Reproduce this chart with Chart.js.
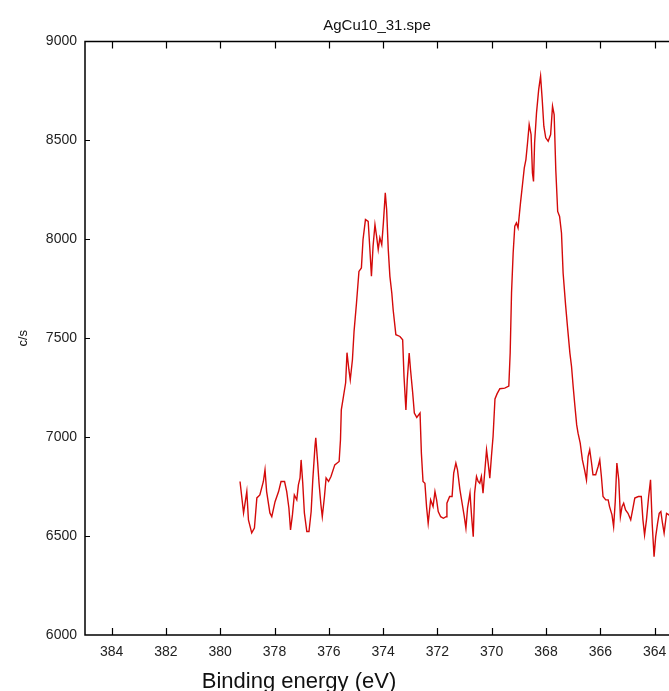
<!DOCTYPE html>
<html>
<head>
<meta charset="utf-8">
<title>AgCu10_31.spe</title>
<script src="https://cdn.jsdelivr.net/npm/chart.js@4.4.1/dist/chart.umd.min.js"></script>
<style>
    html, body { margin: 0; padding: 0; background: #fff; overflow: hidden; }
    #wrap { width: 669px; height: 691px; }
</style>
</head>
<body>
<div id="wrap"><canvas id="spectrum" width="669" height="691"></canvas></div>
<script>
// Binding energy (eV) and count rate (c/s)
const bindingEnergy = [
    379.27, 379.14, 379.02, 378.96, 378.84, 378.74, 378.65, 378.54, 378.41, 378.35,
    378.29, 378.17, 378.10, 377.98, 377.85, 377.76, 377.63, 377.55, 377.47, 377.41,
    377.34, 377.27, 377.18, 377.12, 377.06, 377.02, 376.96, 376.90, 376.81, 376.73,
    376.65, 376.59, 376.51, 376.48, 376.41, 376.36, 376.29, 376.24, 376.16, 376.10,
    376.01, 375.92, 375.78, 375.62, 375.57, 375.54, 375.46, 375.38, 375.33, 375.26,
    375.21, 375.13, 375.07, 374.98, 374.89, 374.80, 374.74, 374.65, 374.55, 374.49,
    374.43, 374.37, 374.30, 374.24, 374.18, 374.12, 374.05, 373.99, 373.92, 373.87,
    373.81, 373.75, 373.68, 373.63, 373.53, 373.38, 373.28, 373.23, 373.16, 373.11,
    373.04, 372.99, 372.91, 372.85, 372.76, 372.64, 372.59, 372.53, 372.46, 372.40,
    372.34, 372.25, 372.16, 372.09, 372.03, 371.97, 371.88, 371.78, 371.68, 371.65,
    371.55, 371.46, 371.40, 371.32, 371.26, 371.17, 371.09, 371.01, 370.95, 370.89,
    370.80, 370.74, 370.68, 370.63, 370.56, 370.50, 370.44, 370.38, 370.32, 370.25,
    370.19, 370.13, 370.07, 370.01, 369.95, 369.88, 369.80, 369.70, 369.52, 369.37,
    369.32, 369.27, 369.21, 369.15, 369.09, 369.03, 368.94, 368.86, 368.80, 368.74,
    368.68, 368.62, 368.55, 368.50, 368.46, 368.42, 368.35, 368.27, 368.20, 368.14,
    368.08, 368.01, 367.92, 367.83, 367.76, 367.70, 367.64, 367.57, 367.50, 367.43,
    367.37, 367.28, 367.21, 367.12, 367.06, 367.00, 366.94, 366.87, 366.82, 366.74,
    366.66, 366.58, 366.51, 366.45, 366.39, 366.33, 366.27, 366.17, 366.08, 366.02,
    365.96, 365.90, 365.80, 365.71, 365.66, 365.57, 365.51, 365.45, 365.39, 365.32,
    365.26, 365.20, 365.14, 365.07, 364.98, 364.88, 364.81, 364.73, 364.60, 364.49,
    364.43, 364.37, 364.30, 364.22, 364.15, 364.09, 364.02, 363.96, 363.89, 363.83,
    363.77, 363.71, 363.65, 363.56, 363.47, 363.40
];
const counts = [
    6776, 6617, 6725, 6582, 6516, 6541, 6693, 6708, 6776, 6835,
    6725, 6617, 6598, 6674, 6725, 6776, 6776, 6725, 6642, 6531,
    6607, 6708, 6683, 6759, 6794, 6885, 6768, 6617, 6523, 6523,
    6624, 6784, 6953, 6997, 6870, 6768, 6658, 6598, 6700, 6794,
    6776, 6801, 6860, 6877, 6987, 7138, 7206, 7275, 7427, 7341,
    7290, 7391, 7535, 7678, 7838, 7855, 7998, 8100, 8091, 7956,
    7813, 7965, 8074, 8015, 7948, 8008, 7973, 8083, 8235, 8150,
    7948, 7813, 7729, 7644, 7518, 7509, 7492, 7307, 7138, 7290,
    7425, 7341, 7223, 7122, 7100, 7122, 6919, 6776, 6767, 6649,
    6565, 6683, 6649, 6725, 6683, 6624, 6598, 6590, 6598, 6666,
    6700, 6700, 6818, 6869, 6835, 6734, 6666, 6598, 6540, 6641,
    6717, 6598, 6497, 6717, 6801, 6776, 6767, 6801, 6717, 6835,
    6936, 6869, 6793, 6902, 7003, 7193, 7220, 7245, 7248, 7258,
    7425, 7729, 7931, 8066, 8083, 8058, 8184, 8285, 8361, 8403,
    8488, 8580, 8530, 8336, 8293, 8488, 8639, 8757, 8825, 8707,
    8572, 8513, 8496, 8530, 8673, 8631, 8352, 8141, 8116, 8032,
    7830, 7670, 7560, 7425, 7357, 7256, 7164, 7062, 7020, 6970,
    6885, 6835, 6784, 6902, 6936, 6877, 6810, 6810, 6852, 6885,
    6801, 6700, 6683, 6683, 6649, 6607, 6548, 6674, 6869, 6784,
    6598, 6649, 6666, 6632, 6615, 6582, 6632, 6692, 6700, 6700,
    6582, 6506, 6582, 6700, 6784, 6565, 6396, 6497, 6565, 6615,
    6624, 6565, 6515, 6615, 6607, 6590
];
const xTickValues = [384, 382, 380, 378, 376, 374, 372, 370, 368, 366, 364];
const yTickValues = [6000, 6500, 7000, 7500, 8000, 8500, 9000];

const TITLE = 'AgCu10_31.spe';
const X_LABEL = 'Binding energy (eV)';
const Y_LABEL = 'c/s';

// frame, inward ticks and the texts around the plot
const framePlugin = {
    id: 'frame',
    afterDraw(chart) {
        const ctx = chart.ctx;
        const area = chart.chartArea;
        const xs = chart.scales.x;
        const ys = chart.scales.y;

        ctx.save();
        ctx.strokeStyle = '#000';
        ctx.lineWidth = 1.5;
        ctx.beginPath();
        ctx.moveTo(area.right, area.top);
        ctx.lineTo(area.left, area.top);
        ctx.lineTo(area.left, area.bottom);
        ctx.lineTo(area.right, area.bottom);
        ctx.stroke();

        ctx.lineWidth = 1.2;
        ctx.beginPath();
        xTickValues.forEach(v => {
            const px = Math.round(xs.getPixelForValue(v)) + 0.5;
            ctx.moveTo(px, area.bottom);
            ctx.lineTo(px, area.bottom - 7);
            ctx.moveTo(px, area.top);
            ctx.lineTo(px, area.top + 7);
        });
        yTickValues.slice(1, -1).forEach(v => {
            const py = Math.round(ys.getPixelForValue(v)) + 0.5;
            ctx.moveTo(area.left, py);
            ctx.lineTo(area.left + 5, py);
        });
        ctx.stroke();

        ctx.fillStyle = '#111';
        ctx.textAlign = 'center';
        ctx.textBaseline = 'alphabetic';
        ctx.font = '15px "Liberation Sans", Arial, sans-serif';
        ctx.fillText(TITLE, (area.left + area.right) / 2, 30);

        ctx.font = '22px "Liberation Sans", Arial, sans-serif';
        ctx.fillText(X_LABEL, 299, 688);

        ctx.font = '13px "Liberation Sans", Arial, sans-serif';
        ctx.translate(27, (area.top + area.bottom) / 2);
        ctx.rotate(-Math.PI / 2);
        ctx.fillText(Y_LABEL, 0, 0);
        ctx.restore();
    }
};

const ctx = document.getElementById('spectrum');
new Chart(ctx, {
    type: 'scatter',
    data: {
        datasets: [{
            label: TITLE,
            data: bindingEnergy.map((e, i) => ({ x: e, y: counts[i] })),
            showLine: true,
            borderColor: '#d40a0a',
            borderWidth: 1.4,
            pointRadius: 0,
            tension: 0
        }]
    },
    options: {
        responsive: false,
        animation: false,
        devicePixelRatio: 1,
        layout: {
            padding: { top: 41.5, right: 0, bottom: 0, left: 0 }
        },
        plugins: {
            legend: { display: false },
            tooltip: { enabled: false },
            title: { display: false }
        },
        scales: {
            x: {
                type: 'linear',
                reverse: true,
                min: 363.47,
                max: 384.98,
                afterBuildTicks: scale => {
                    scale.ticks = xTickValues.map(v => ({ value: v }));
                },
                afterFit: scale => {
                    scale.height = 56;
                    scale.paddingLeft = 0;
                    scale.paddingRight = 0;
                },
                grid: { display: false, drawTicks: false },
                border: { display: false },
                ticks: {
                    color: '#222',
                    padding: 9,
                    maxRotation: 0,
                    callback: v => String(v),
                    font: { family: '"Liberation Sans", Arial, sans-serif', size: 14 }
                }
            },
            y: {
                min: 6000,
                max: 9000,
                afterBuildTicks: scale => {
                    scale.ticks = yTickValues.map(v => ({ value: v }));
                },
                afterFit: scale => {
                    scale.width = 85;
                    scale.paddingTop = 0;
                    scale.paddingBottom = 0;
                },
                grid: { display: false, drawTicks: false },
                border: { display: false },
                ticks: {
                    color: '#222',
                    padding: 8,
                    callback: v => String(v),
                    font: { family: '"Liberation Sans", Arial, sans-serif', size: 14 }
                }
            }
        }
    },
    plugins: [framePlugin]
});
</script>
</body>
</html>
